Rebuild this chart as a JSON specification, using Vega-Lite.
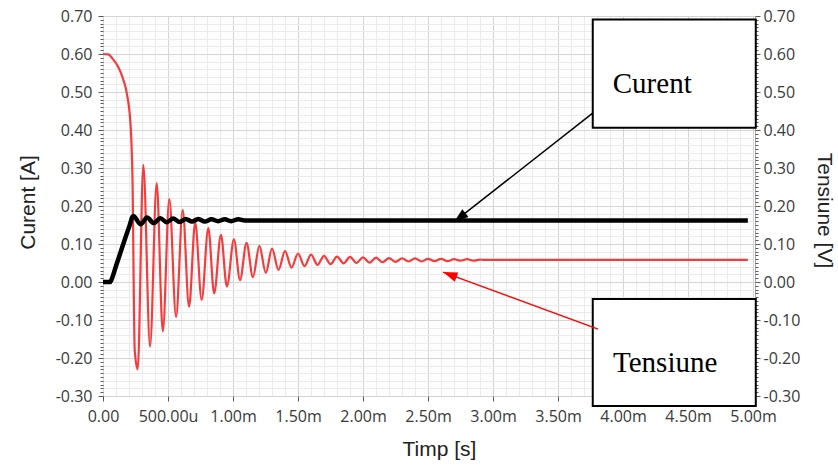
{
  "$schema": "https://vega.github.io/schema/vega-lite/v6.json",
  "width": 652,
  "height": 380,
  "autosize": {"type": "none"},
  "padding": {"left": 103, "top": 16, "right": 83, "bottom": 70},
  "background": "white",
  "config": {
    "view": {"stroke": "#a6a6a6", "fill": "#fdfdfd"},
    "axis": {
      "labelFont": "Open Sans",
      "labelFontSize": 16,
      "labelColor": "#3a3a3a",
      "titleFont": "Liberation Sans",
      "titleFontSize": 21,
      "titleFontWeight": "normal",
      "titleColor": "#222222",
      "tickColor": "#5a5a5a",
      "domain": false,
      "labelOverlap": false,
      "labelFlush": false
    }
  },
  "datasets": {
    "red": [
      {"t": 0, "v": 0.600}, {"t": 0.04, "v": 0.599}, {"t": 0.077, "v": 0.586}, {"t": 0.115, "v": 0.567},
      {"t": 0.149, "v": 0.540}, {"t": 0.175, "v": 0.510}, {"t": 0.192, "v": 0.479}, {"t": 0.205, "v": 0.444},
      {"t": 0.218, "v": 0.374}, {"t": 0.226, "v": 0.286}, {"t": 0.244, "v": -0.180}, {"t": 0.267, "v": -0.230},
      {"t": 0.310, "v": 0.308}, {"t": 0.362, "v": -0.170}, {"t": 0.413, "v": 0.260}, {"t": 0.460, "v": -0.130},
      {"t": 0.510, "v": 0.218}, {"t": 0.562, "v": -0.092}, {"t": 0.613, "v": 0.189}, {"t": 0.662, "v": -0.065},
      {"t": 0.709, "v": 0.156}, {"t": 0.759, "v": -0.047}, {"t": 0.810, "v": 0.142}, {"t": 0.855, "v": -0.030},
      {"t": 0.907, "v": 0.124}, {"t": 0.953, "v": -0.012}, {"t": 1.007, "v": 0.112}, {"t": 1.054, "v": 0.005},
      {"t": 1.104, "v": 0.103}, {"t": 1.153, "v": 0.013}, {"t": 1.203, "v": 0.095}, {"t": 1.252, "v": 0.024},
      {"t": 1.300, "v": 0.088}, {"t": 1.350, "v": 0.032}, {"t": 1.400, "v": 0.081}, {"t": 1.450, "v": 0.038},
      {"t": 1.500, "v": 0.075}, {"t": 1.550, "v": 0.042}, {"t": 1.600, "v": 0.072}, {"t": 1.650, "v": 0.045},
      {"t": 1.700, "v": 0.069}, {"t": 1.750, "v": 0.047}, {"t": 1.800, "v": 0.067}, {"t": 1.850, "v": 0.049},
      {"t": 1.900, "v": 0.066}, {"t": 1.950, "v": 0.050}, {"t": 2.000, "v": 0.065}, {"t": 2.050, "v": 0.051},
      {"t": 2.100, "v": 0.064}, {"t": 2.150, "v": 0.052}, {"t": 2.200, "v": 0.063}, {"t": 2.250, "v": 0.053},
      {"t": 2.300, "v": 0.062}, {"t": 2.350, "v": 0.054}, {"t": 2.400, "v": 0.062}, {"t": 2.450, "v": 0.054},
      {"t": 2.500, "v": 0.061}, {"t": 2.550, "v": 0.055}, {"t": 2.600, "v": 0.061}, {"t": 2.650, "v": 0.055},
      {"t": 2.700, "v": 0.060}, {"t": 2.750, "v": 0.056}, {"t": 2.800, "v": 0.060}, {"t": 2.850, "v": 0.056},
      {"t": 2.900, "v": 0.059}, {"t": 2.930, "v": 0.058}, {"t": 4.960, "v": 0.058}
    ],
    "black": [
      {"t": 0, "v": 0}, {"t": 0.055, "v": 0}, {"t": 0.065, "v": 0.006}, {"t": 0.10, "v": 0.042}, {"t": 0.154, "v": 0.098},
      {"t": 0.20, "v": 0.144}, {"t": 0.233, "v": 0.174}, {"t": 0.29, "v": 0.152}, {"t": 0.339, "v": 0.170},
      {"t": 0.39, "v": 0.155}, {"t": 0.441, "v": 0.168}, {"t": 0.49, "v": 0.157}, {"t": 0.539, "v": 0.167},
      {"t": 0.59, "v": 0.158}, {"t": 0.636, "v": 0.166}, {"t": 0.685, "v": 0.159}, {"t": 0.733, "v": 0.166},
      {"t": 0.783, "v": 0.159}, {"t": 0.834, "v": 0.165}, {"t": 0.885, "v": 0.160}, {"t": 0.936, "v": 0.165},
      {"t": 0.985, "v": 0.160}, {"t": 1.04, "v": 0.165}, {"t": 1.09, "v": 0.162}, {"t": 4.96, "v": 0.162}
    ],
    "boxes": [
      {"label": "Curent", "x1": 3.767, "x2": 5.021, "y1": 0.691, "y2": 0.406},
      {"label": "Tensiune", "x1": 3.767, "x2": 5.021, "y1": -0.045, "y2": -0.326}
    ],
    "notes": [
      {"label": "Curent", "t": 3.921, "v": 0.497},
      {"label": "Tensiune", "t": 3.923, "v": -0.236}
    ],
    "arrows": [
      {"label": "Curent", "t1": 3.769, "v1": 0.445, "t2": 2.700, "v2": 0.158},
      {"label": "Tensiune", "t1": 3.808, "v1": -0.124, "t2": 2.615, "v2": 0.026}
    ]
  },
  "layer": [
    {
      "data": {"name": "red"},
      "mark": {"type": "line", "color": "#f53c3c", "strokeWidth": 2.2, "interpolate": "monotone"},
      "encoding": {
        "x": {
          "field": "t", "type": "quantitative",
          "scale": {"domain": [0, 5.015], "nice": false, "zero": false},
          "axis": {
            "orient": "bottom",
            "values": [0.1,0.2,0.3,0.4,0.6,0.7,0.8,0.9,1.1,1.2,1.3,1.4,1.6,1.7,1.8,1.9,2.1,2.2,2.3,2.4,2.6,2.7,2.8,2.9,3.1,3.2,3.3,3.4,3.6,3.7,3.8,3.9,4.1,4.2,4.3,4.4,4.6,4.7,4.8,4.9],
            "grid": true, "gridColor": "#ebebeb", "labels": false, "ticks": false, "domain": false, "title": null
          }
        },
        "y": {
          "field": "v", "type": "quantitative",
          "scale": {"domain": [-0.3, 0.7], "nice": false, "zero": false},
          "axis": {
            "orient": "left",
            "values": [-0.28,-0.26,-0.24,-0.22,-0.18,-0.16,-0.14,-0.12,-0.08,-0.06,-0.04,-0.02,0.02,0.04,0.06,0.08,0.12,0.14,0.16,0.18,0.22,0.24,0.26,0.28,0.32,0.34,0.36,0.38,0.42,0.44,0.46,0.48,0.52,0.54,0.56,0.58,0.62,0.64,0.66,0.68],
            "grid": true, "gridColor": "#ebebeb", "labels": false, "ticks": false, "domain": false, "title": null
          }
        }
      }
    },
    {
      "data": {"name": "black"},
      "mark": {"type": "line", "color": "#000000", "strokeWidth": 4.5, "interpolate": "monotone"},
      "encoding": {
        "x": {
          "field": "t", "type": "quantitative",
          "scale": {"domain": [0, 5.015], "nice": false, "zero": false},
          "axis": {
            "orient": "bottom",
            "values": [0, 0.5, 1, 1.5, 2, 2.5, 3, 3.5, 4, 4.5, 5],
            "grid": true, "gridColor": "#d5d5d5", "ticks": true, "tickSize": 5, "labelPadding": 7,
            "labelExpr": "datum.value == 0 ? '0.00' : (datum.value < 1 ? format(datum.value * 1000, '.2f') + 'u' : format(datum.value, '.2f') + 'm')",
            "title": "Timp [s]", "titleX": 336, "titleY": 59, "titleAlign": "center", "titleBaseline": "alphabetic"
          }
        },
        "y": {
          "field": "v", "type": "quantitative",
          "scale": {"domain": [-0.3, 0.7], "nice": false, "zero": false},
          "axis": {
            "orient": "left",
            "values": [-0.3, -0.2, -0.1, 0, 0.1, 0.2, 0.3, 0.4, 0.5, 0.6, 0.7],
            "grid": true, "gridColor": "#d5d5d5", "ticks": true, "tickSize": 5, "labelPadding": 6,
            "labelExpr": "replace(format(datum.value, '.2f'), '\u2212', '-')",
            "title": "Curent [A]", "titleX": -69, "titleY": 186, "titleAngle": -90, "titleAlign": "center", "titleBaseline": "alphabetic"
          }
        }
      }
    },
    {
      "data": {"name": "boxes"},
      "mark": {"type": "rect", "fill": "#ffffff", "stroke": "#000000", "strokeWidth": 2},
      "encoding": {
        "x": {"field": "x1", "type": "quantitative", "scale": {"domain": [0, 5.015], "nice": false, "zero": false}, "axis": null},
        "x2": {"field": "x2"},
        "y": {
          "field": "y1", "type": "quantitative",
          "scale": {"domain": [-0.3, 0.7], "nice": false, "zero": false},
          "axis": {
            "orient": "right",
            "values": [-0.3, -0.2, -0.1, 0, 0.1, 0.2, 0.3, 0.4, 0.5, 0.6, 0.7],
            "grid": false, "ticks": true, "tickSize": 5, "labelPadding": 3,
            "labelExpr": "replace(format(datum.value, '.2f'), '\u2212', '-')",
            "title": "Tensiune [V]", "titleX": 62, "titleY": 194, "titleAngle": 90, "titleAlign": "center", "titleBaseline": "alphabetic"
          }
        },
        "y2": {"field": "y2"}
      }
    },
    {
      "data": {"name": "notes"},
      "mark": {"type": "text", "font": "Liberation Serif", "fontSize": 29, "align": "left", "baseline": "alphabetic", "color": "#000000"},
      "encoding": {
        "x": {"field": "t", "type": "quantitative", "scale": {"domain": [0, 5.015], "nice": false, "zero": false}, "axis": null},
        "y": {
          "field": "v", "type": "quantitative",
          "scale": {"domain": [-0.3, 0.7], "nice": false, "zero": false},
          "axis": {
            "orient": "left",
            "values": [-0.29,-0.28,-0.27,-0.26,-0.25,-0.24,-0.23,-0.22,-0.21,-0.19,-0.18,-0.17,-0.16,-0.15,-0.14,-0.13,-0.12,-0.11,-0.09,-0.08,-0.07,-0.06,-0.05,-0.04,-0.03,-0.02,-0.01,0.01,0.02,0.03,0.04,0.05,0.06,0.07,0.08,0.09,0.11,0.12,0.13,0.14,0.15,0.16,0.17,0.18,0.19,0.21,0.22,0.23,0.24,0.25,0.26,0.27,0.28,0.29,0.31,0.32,0.33,0.34,0.35,0.36,0.37,0.38,0.39,0.41,0.42,0.43,0.44,0.45,0.46,0.47,0.48,0.49,0.51,0.52,0.53,0.54,0.55,0.56,0.57,0.58,0.59,0.61,0.62,0.63,0.64,0.65,0.66,0.67,0.68,0.69],
            "grid": false, "labels": false, "ticks": true, "tickSize": 3, "title": null
          }
        },
        "text": {"field": "label"}
      }
    },
    {
      "data": {"name": "arrows"},
      "mark": {"type": "rule", "strokeWidth": 1.5},
      "encoding": {
        "x": {"field": "t1", "type": "quantitative", "scale": {"domain": [0, 5.015], "nice": false, "zero": false}, "axis": null},
        "x2": {"field": "t2"},
        "y": {
          "field": "v1", "type": "quantitative",
          "scale": {"domain": [-0.3, 0.7], "nice": false, "zero": false},
          "axis": {
            "orient": "right",
            "values": [-0.29,-0.28,-0.27,-0.26,-0.25,-0.24,-0.23,-0.22,-0.21,-0.19,-0.18,-0.17,-0.16,-0.15,-0.14,-0.13,-0.12,-0.11,-0.09,-0.08,-0.07,-0.06,-0.05,-0.04,-0.03,-0.02,-0.01,0.01,0.02,0.03,0.04,0.05,0.06,0.07,0.08,0.09,0.11,0.12,0.13,0.14,0.15,0.16,0.17,0.18,0.19,0.21,0.22,0.23,0.24,0.25,0.26,0.27,0.28,0.29,0.31,0.32,0.33,0.34,0.35,0.36,0.37,0.38,0.39,0.41,0.42,0.43,0.44,0.45,0.46,0.47,0.48,0.49,0.51,0.52,0.53,0.54,0.55,0.56,0.57,0.58,0.59,0.61,0.62,0.63,0.64,0.65,0.66,0.67,0.68,0.69],
            "grid": false, "labels": false, "ticks": true, "tickSize": 3, "title": null
          }
        },
        "y2": {"field": "v2"},
        "color": {"field": "label", "type": "nominal", "scale": {"domain": ["Curent", "Tensiune"], "range": ["#000000", "#ff0000"]}, "legend": null}
      }
    },
    {
      "data": {"name": "arrows"},
      "transform": [{"filter": "datum.label == 'Curent'"}],
      "mark": {"type": "point", "shape": "M0,0L0.55,1.6L-0.55,1.6Z", "filled": true, "size": 324, "angle": 232, "color": "#000000", "opacity": 1},
      "encoding": {
        "x": {"field": "t2", "type": "quantitative", "scale": {"domain": [0, 5.015], "nice": false, "zero": false}, "axis": null},
        "y": {"field": "v2", "type": "quantitative", "scale": {"domain": [-0.3, 0.7], "nice": false, "zero": false}, "axis": null}
      }
    },
    {
      "data": {"name": "arrows"},
      "transform": [{"filter": "datum.label == 'Tensiune'"}],
      "mark": {"type": "point", "shape": "M0,0L0.55,1.6L-0.55,1.6Z", "filled": true, "size": 324, "angle": 290, "color": "#ff0000", "opacity": 1},
      "encoding": {
        "x": {"field": "t2", "type": "quantitative", "scale": {"domain": [0, 5.015], "nice": false, "zero": false}, "axis": null},
        "y": {"field": "v2", "type": "quantitative", "scale": {"domain": [-0.3, 0.7], "nice": false, "zero": false}, "axis": null}
      }
    }
  ],
  "resolve": {"axis": {"x": "independent", "y": "independent"}}
}
